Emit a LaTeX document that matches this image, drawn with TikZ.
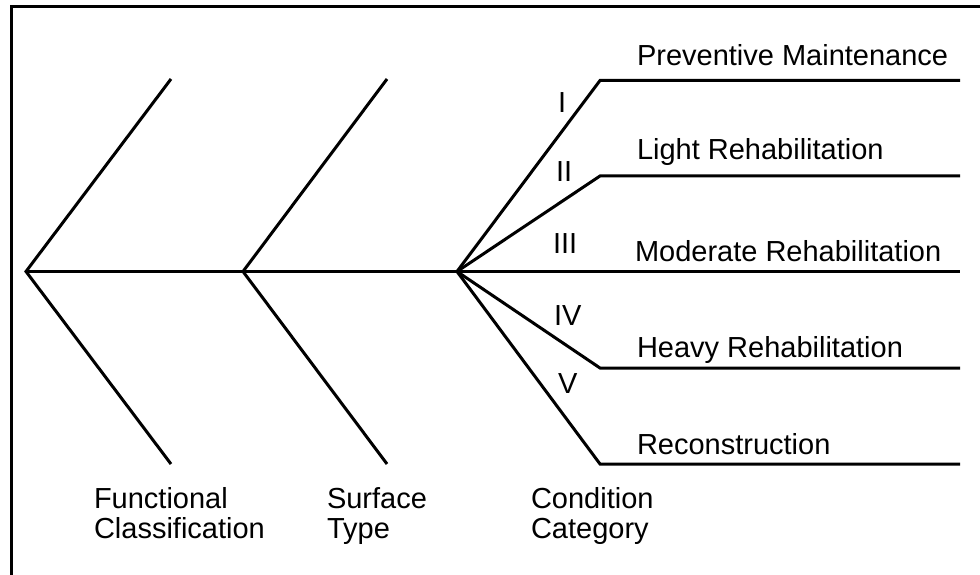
\documentclass[tikz,border=0pt]{standalone}
\usepackage{fontspec}
\setmainfont{Liberation Sans}
\begin{document}
\begin{tikzpicture}[x=1bp,y=-1bp,
  stroke/.style={line width=3bp, line join=miter, line cap=butt},
  txt/.style={anchor=base west, inner sep=0pt, outer sep=0pt,
    font=\fontsize{29bp}{30bp}\selectfont},
  caption/.style={anchor=north west, inner sep=0pt, outer sep=0pt, align=left,
    font=\fontsize{29bp}{30bp}\selectfont}]
  \useasboundingbox (0,0) rectangle (980,575);

  % frame: left and top edges
  \coordinate (fbl) at (11,575);
  \coordinate (ftl) at (11,7);
  \coordinate (ftr) at (980,7);
  \draw[stroke] (fbl) -- (ftl) -- (ftr);

  % spine and its three joints
  \coordinate (j1) at (26,271.5);
  \coordinate (j2) at (243,271.5);
  \coordinate (j3) at (457,271.5);
  \coordinate (spineEnd) at (960,271.5);
  \draw[stroke] (j1) -- (spineEnd);

  % functional classification chevron
  \coordinate (j1u) at (171,79);
  \coordinate (j1d) at (171,464);
  \draw[stroke] (j1u) -- (j1) -- (j1d);

  % surface type chevron
  \coordinate (j2u) at (387,79);
  \coordinate (j2d) at (387,464);
  \draw[stroke] (j2u) -- (j2) -- (j2d);

  % condition category fan
  \coordinate (k1) at (600,80.5);   \coordinate (e1) at (960,80.5);
  \coordinate (k2) at (600,176);    \coordinate (e2) at (960,176);
  \coordinate (k4) at (600,368);    \coordinate (e4) at (960,368);
  \coordinate (k5) at (600,464);    \coordinate (e5) at (960,464);
  \draw[stroke] (j3) -- (k1) -- (e1);
  \draw[stroke] (j3) -- (k2) -- (e2);
  \draw[stroke] (j3) -- (k4) -- (e4);
  \draw[stroke] (j3) -- (k5) -- (e5);

  % category numerals
  \node[txt] (nI)   at (558,113) {I};
  \node[txt] (nII)  at (556,182) {II};
  \node[txt] (nIII) at (553,254) {III};
  \node[txt] (nIV)  at (554,325) {IV};
  \node[txt] (nV)   at (558,393) {V};

  % treatment labels
  \node[txt] (t1) at (637,66)  {Preventive Maintenance};
  \node[txt] (t2) at (637,160) {Light Rehabilitation};
  \node[txt] (t3) at (635,262) {Moderate Rehabilitation};
  \node[txt] (t4) at (637,357) {Heavy Rehabilitation};
  \node[txt] (t5) at (637,454) {Reconstruction};

  % axis captions
  \node[txt] (c1a) at (94,508) {Functional};
  \node[txt] (c1b) at (94,538) {Classification};
  \node[txt] (c2a) at (327,508) {Surface};
  \node[txt] (c2b) at (327,538) {Type};
  \node[txt] (c3a) at (531,508) {Condition};
  \node[txt] (c3b) at (531,538) {Category};
\end{tikzpicture}
\end{document}
